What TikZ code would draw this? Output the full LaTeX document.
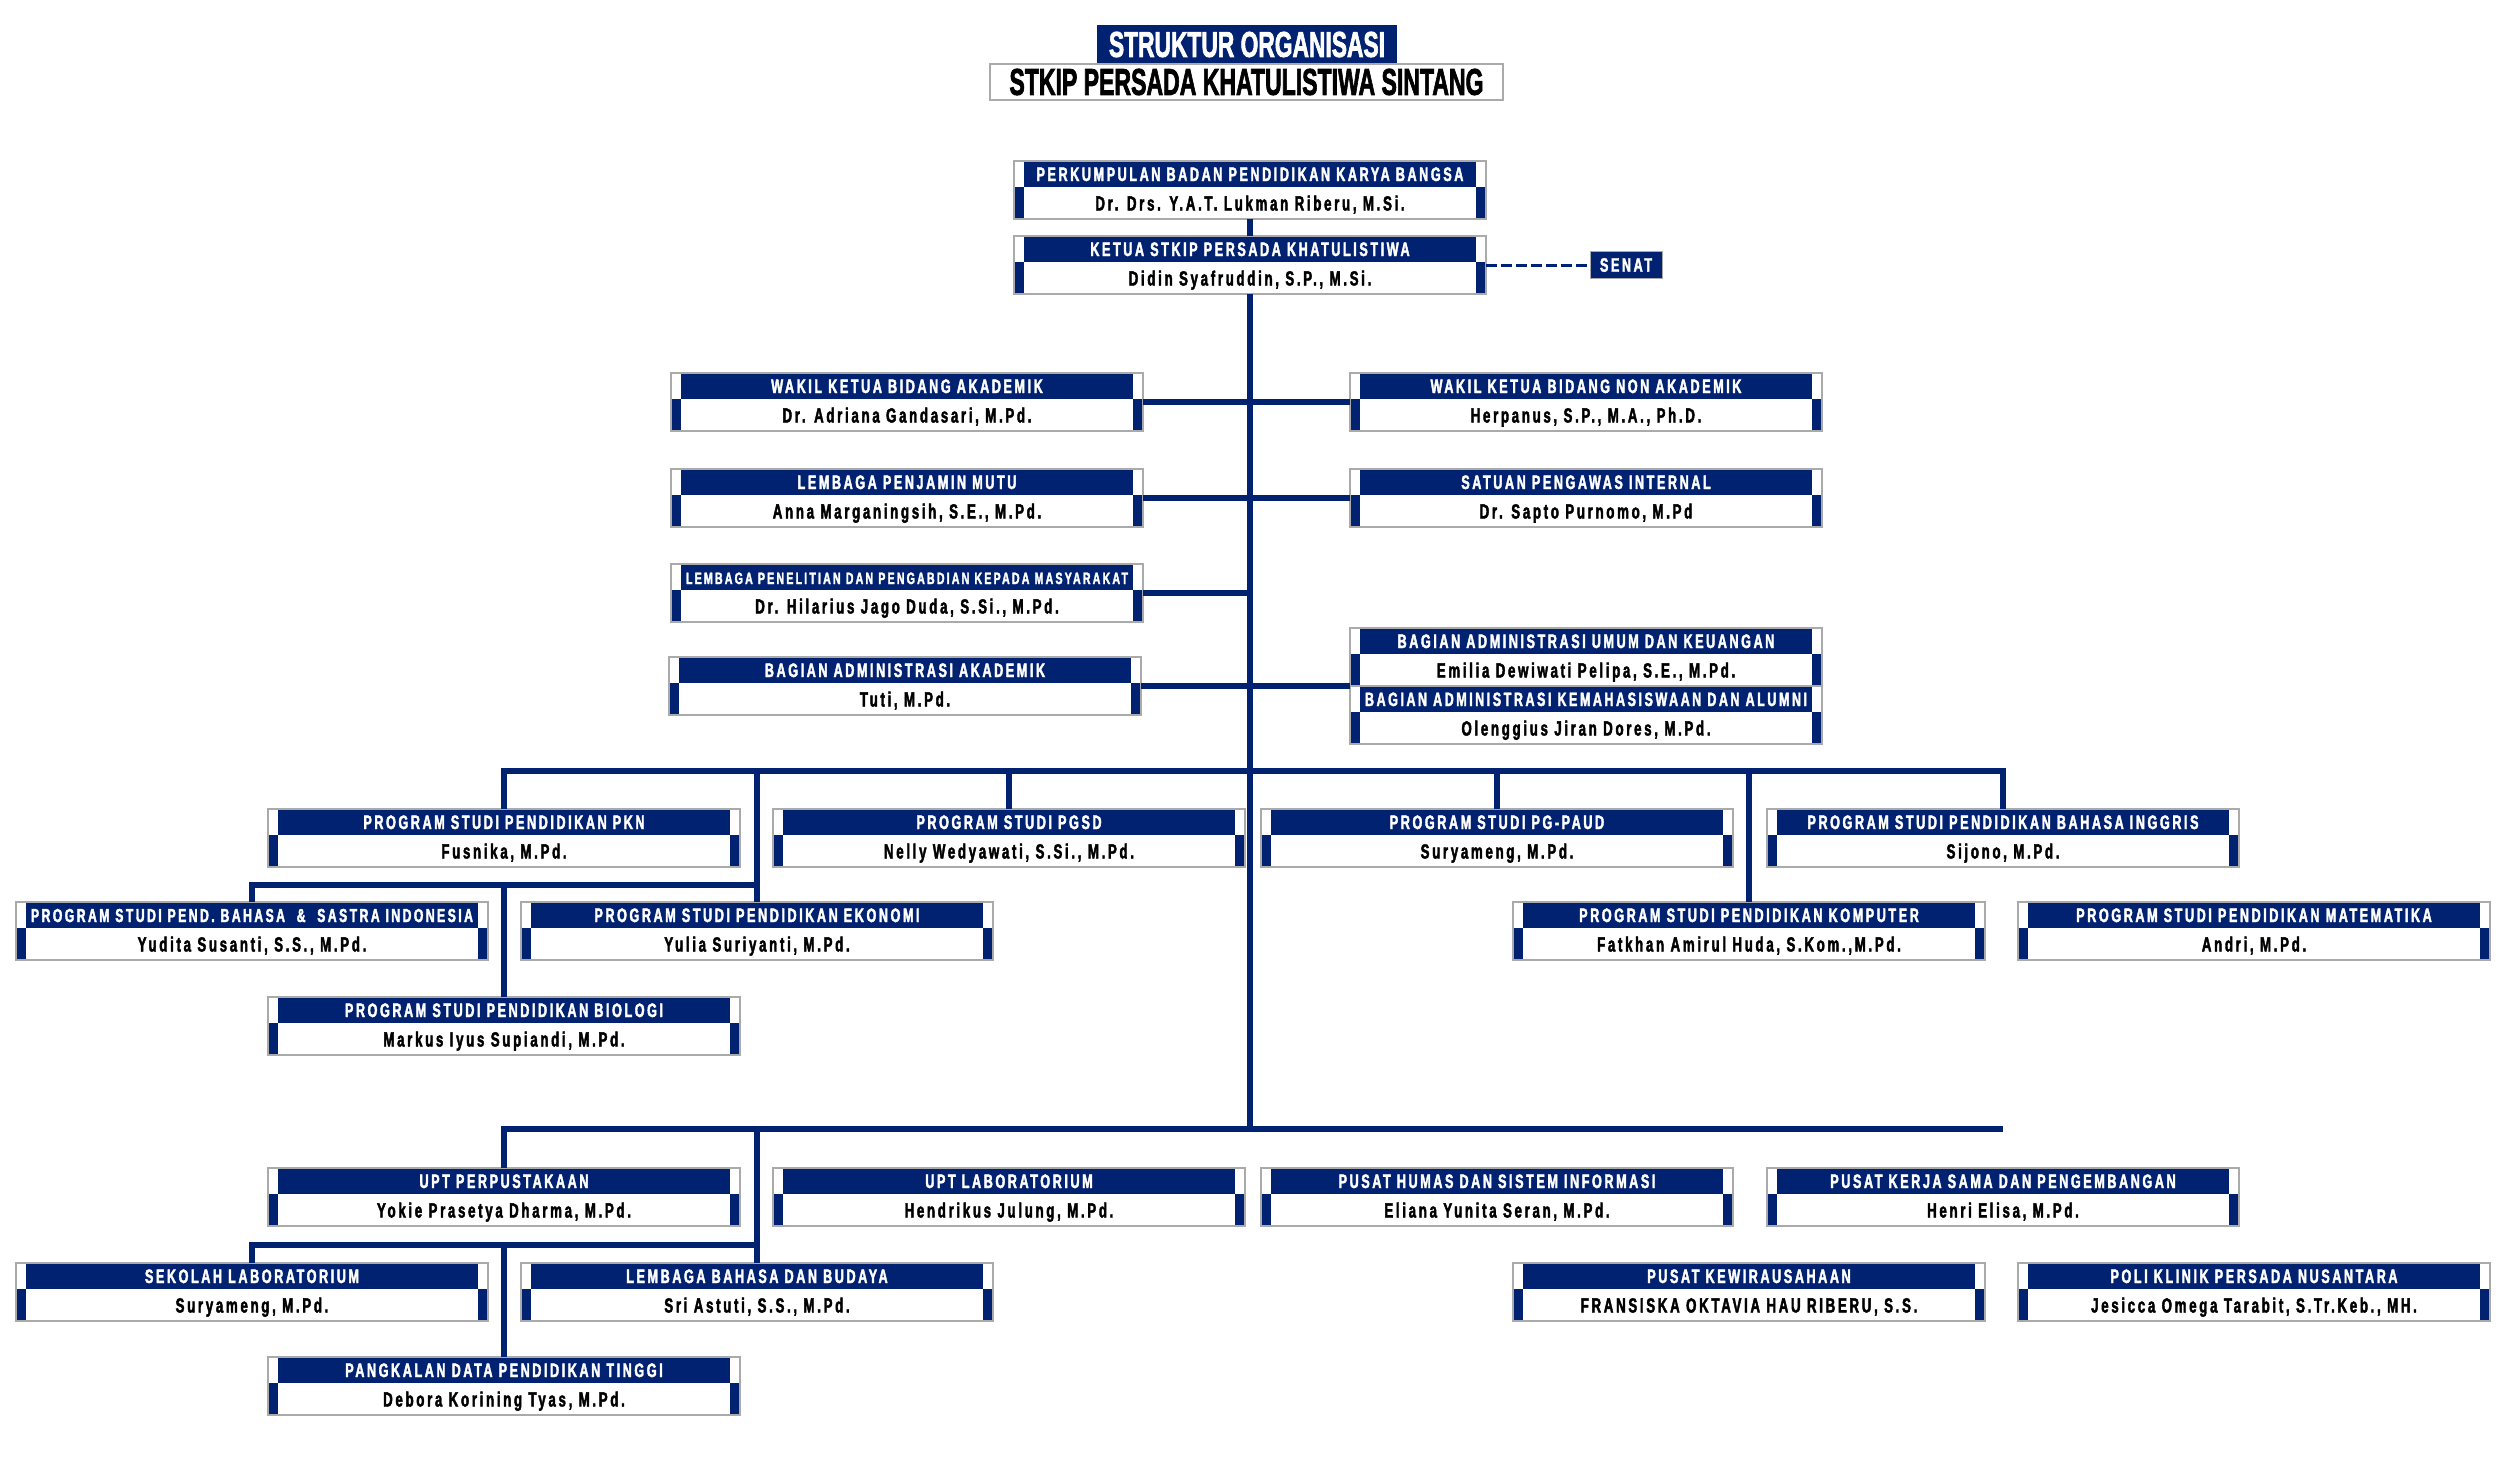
\documentclass[tikz,border=0pt]{standalone}
\usepackage{fontspec}
\usepackage{graphicx}
\setmainfont{Liberation Sans}
\newfontfamily\orgfont{Liberation Sans}[FakeStretch=0.65, LetterSpace=13, FakeBold=2]
\newfontfamily\ttlfont{Liberation Sans}[FakeBold=2.5]
\definecolor{navy}{RGB}{0,34,112}
\definecolor{edge}{RGB}{170,170,170}
\newsavebox\fitsb
\newcommand\fitbox[1]{\sbox\fitsb{#1}\ifdim\wd\fitsb>442pt\resizebox{442pt}{!}{\usebox\fitsb}\else\usebox\fitsb\fi}
\tikzset{
  orgbox/.style={rectangle, inner sep=0pt, outer sep=0pt, minimum width=472pt, minimum height=58pt,
    fill=white, draw=edge, line width=1.5pt,
    path picture={
      \fill[navy] ([xshift=10pt]path picture bounding box.north west) rectangle ([xshift=-10pt,yshift=-26pt]path picture bounding box.north east);
      \fill[navy] ([yshift=-26pt]path picture bounding box.north west) rectangle ([xshift=10pt]path picture bounding box.south west);
      \fill[navy] ([yshift=-26pt]path picture bounding box.north east) rectangle ([xshift=-10pt]path picture bounding box.south east);
    }},
  hdtxt/.style={text=white, inner sep=0pt, font=\orgfont\bfseries\fontsize{19.5}{20}\selectfont},
  nmtxt/.style={text=black, inner sep=0pt, font=\orgfont\bfseries\fontsize{20.5}{21}\selectfont},
  conn/.style={draw=navy, line width=6.5pt},
  dashconn/.style={draw=navy, line width=3pt, dash pattern=on 11pt off 4pt},
}
% #1 name, #2 left x, #3 top y, #4 header, #5 person
\newcommand\obox[5]{%
  \node[orgbox] (#1) at (#2+236,#3+29) {};
  \node[hdtxt, anchor=base] (#1-h) at ([yshift=-20pt]#1.north) {\fitbox{#4}};
  \node[nmtxt, anchor=base] (#1-n) at ([yshift=-49.5pt]#1.north) {#5};
}
\begin{document}
\begin{tikzpicture}[x=1pt, y=-1pt]
\useasboundingbox (0,0) rectangle (2500,1460);
\fill[white] (0,0) rectangle (2500,1460);

% title
\node[fill=navy, inner sep=0pt, minimum width=300pt, minimum height=39pt] (ttl1) at (1247,44.5)
  {\resizebox{276pt}{25pt}{\ttlfont\bfseries\color{white}STRUKTUR ORGANISASI}};
\node[fill=white, draw=edge, line width=1.5pt, inner sep=0pt, minimum width=513pt, minimum height=36pt] (ttl2) at (1246.5,82)
  {\resizebox{474pt}{26pt}{\ttlfont\bfseries STKIP PERSADA KHATULISTIWA SINTANG}};

% boxes
\obox{b1}{1014}{161}{PERKUMPULAN BADAN PENDIDIKAN KARYA BANGSA}{Dr. Drs. Y.A.T. Lukman Riberu, M.Si.}
\obox{b2}{1014}{236}{KETUA STKIP PERSADA KHATULISTIWA}{Didin Syafruddin, S.P., M.Si.}
\node[fill=navy, draw=edge, line width=1pt, inner sep=0pt, minimum width=72pt, minimum height=27pt, hdtxt] (senat) at (1626,265) {SENAT};

\obox{wk1}{671}{373}{WAKIL KETUA BIDANG AKADEMIK}{Dr. Adriana Gandasari, M.Pd.}
\obox{wk2}{1350}{373}{WAKIL KETUA BIDANG NON AKADEMIK}{Herpanus, S.P., M.A., Ph.D.}
\obox{lpm}{671}{469}{LEMBAGA PENJAMIN MUTU}{Anna Marganingsih, S.E., M.Pd.}
\obox{spi}{1350}{469}{SATUAN PENGAWAS INTERNAL}{Dr. Sapto Purnomo, M.Pd}
\obox{lppm}{671}{564}{LEMBAGA PENELITIAN DAN PENGABDIAN KEPADA MASYARAKAT}{Dr. Hilarius Jago Duda, S.Si., M.Pd.}
\obox{baa}{669}{657}{BAGIAN ADMINISTRASI AKADEMIK}{Tuti, M.Pd.}
\obox{bau}{1350}{628}{BAGIAN ADMINISTRASI UMUM DAN KEUANGAN}{Emilia Dewiwati Pelipa, S.E., M.Pd.}
\obox{bak}{1350}{686}{BAGIAN ADMINISTRASI KEMAHASISWAAN DAN ALUMNI}{Olenggius Jiran Dores, M.Pd.}

\obox{pkn}{268}{809}{PROGRAM STUDI PENDIDIKAN PKN}{Fusnika, M.Pd.}
\obox{pgsd}{773}{809}{PROGRAM STUDI PGSD}{Nelly Wedyawati, S.Si., M.Pd.}
\obox{paud}{1261}{809}{PROGRAM STUDI PG-PAUD}{Suryameng, M.Pd.}
\obox{ing}{1767}{809}{PROGRAM STUDI PENDIDIKAN BAHASA INGGRIS}{Sijono, M.Pd.}
\obox{bind}{16}{902}{PROGRAM STUDI PEND. BAHASA\ \ \&\ \ SASTRA INDONESIA}{Yudita Susanti, S.S., M.Pd.}
\obox{eko}{521}{902}{PROGRAM STUDI PENDIDIKAN EKONOMI}{Yulia Suriyanti, M.Pd.}
\obox{kom}{1513}{902}{PROGRAM STUDI PENDIDIKAN KOMPUTER}{Fatkhan Amirul Huda, S.Kom.,M.Pd.}
\obox{mat}{2018}{902}{PROGRAM STUDI PENDIDIKAN MATEMATIKA}{Andri, M.Pd.}
\obox{bio}{268}{997}{PROGRAM STUDI PENDIDIKAN BIOLOGI}{Markus Iyus Supiandi, M.Pd.}

\obox{perp}{268}{1168}{UPT PERPUSTAKAAN}{Yokie Prasetya Dharma, M.Pd.}
\obox{lab}{773}{1168}{UPT LABORATORIUM}{Hendrikus Julung, M.Pd.}
\obox{hum}{1261}{1168}{PUSAT HUMAS DAN SISTEM INFORMASI}{Eliana Yunita Seran, M.Pd.}
\obox{ks}{1767}{1168}{PUSAT KERJA SAMA DAN PENGEMBANGAN}{Henri Elisa, M.Pd.}
\obox{sekl}{16}{1263}{SEKOLAH LABORATORIUM}{Suryameng, M.Pd.}
\obox{lbb}{521}{1263}{LEMBAGA BAHASA DAN BUDAYA}{Sri Astuti, S.S., M.Pd.}
\obox{kwu}{1513}{1263}{PUSAT KEWIRAUSAHAAN}{FRANSISKA OKTAVIA HAU RIBERU, S.S.}
\obox{poli}{2018}{1263}{POLI KLINIK PERSADA NUSANTARA}{Jesicca Omega Tarabit, S.Tr.Keb., MH.}
\obox{pddt}{268}{1357}{PANGKALAN DATA PENDIDIKAN TINGGI}{Debora Korining Tyas, M.Pd.}

% connectors
\coordinate (tb) at (1250,1129);
\coordinate (pb) at (1250,771);
\coordinate (sb) at (0,885);
\coordinate (usb) at (0,1245);
\draw[conn] (b1.south) -- (b2.north);
\draw[dashconn] (b2.east) -- (senat.west);
\draw[conn] (b2.south) -- (tb);
\draw[conn] (wk1.east) -- (wk2.west);
\draw[conn] (lpm.east) -- (spi.west);
\draw[conn] (lppm.east) -- (lppm.east -| tb);
\draw[conn] (baa.east) -- (baa.east -| bau.west);

\draw[conn] (pkn.north) -- (pkn.north |- pb) -- (ing.north |- pb) -- (ing.north);
\draw[conn] (pgsd.north) -- (pgsd.north |- pb);
\draw[conn] (paud.north) -- (paud.north |- pb);
\draw[conn] (kom.north) -- (kom.north |- pb);
\draw[conn] (eko.north) -- (eko.north |- pb);
\draw[conn] (bind.north) -- (bind.north |- sb) -- (eko.north |- sb);
\draw[conn] (bio.north) -- (bio.north |- sb);

\draw[conn] (perp.north) -- (perp.north |- tb) -- (ks.north |- tb);
\draw[conn] (lbb.north) -- (lbb.north |- tb);
\draw[conn] (sekl.north) -- (sekl.north |- usb) -- (lbb.north |- usb);
\draw[conn] (pddt.north) -- (pddt.north |- usb);
\end{tikzpicture}
\end{document}
